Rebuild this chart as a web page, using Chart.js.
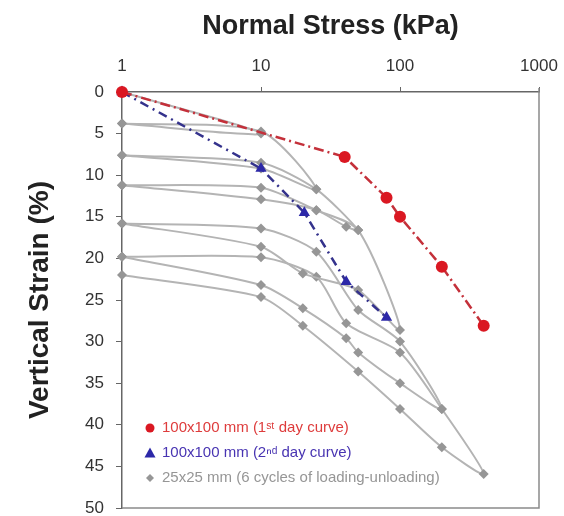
<!DOCTYPE html>
<html>
<head>
<meta charset="utf-8">
<script src="https://cdn.jsdelivr.net/npm/chart.js"></script>
<style>
  html, body { margin: 0; padding: 0; background: #fff; }
  #wrap { width: 564px; height: 516px; }
</style>
</head>
<body>
<div id="wrap"><canvas id="strain"></canvas></div>
<script>
// normal stress (kPa) / vertical strain (%)
const xTicks = [1, 10, 100, 1000];

// 100x100 mm, first day
const stressDay1 = [1, 40, 80, 100, 200, 400];
const strainDay1 = [0, 7.8, 12.7, 15.0, 21.0, 28.1];

// 100x100 mm, second day
const stressDay2 = [1, 10, 20.5, 41, 80];
const strainDay2 = [0, 9.2, 14.5, 22.8, 27.1];

// 25x25 mm, one list of [stress, strain] per loading-unloading cycle
const cycle1 = [[1, 0], [10, 5.0], [1, 3.8]];
const cycle2 = [[1, 3.8], [10, 4.75], [25, 11.7], [10, 9.2], [1, 7.6]];
const cycle3 = [[1, 7.6], [10, 8.5], [25, 11.7], [50, 16.6], [41, 16.2], [25, 14.2], [10, 12.9], [1, 11.2]];
const cycle4 = [[1, 11.2], [10, 11.5], [25, 14.2], [50, 16.6], [100, 28.6], [50, 23.8], [20, 21.8], [10, 18.6], [1, 15.8]];
const cycle5 = [[1, 15.8], [10, 16.4], [25, 19.2], [50, 26.2], [100, 30.0], [200, 38.1], [100, 35.0], [50, 31.3], [41, 29.6], [20, 26.0], [10, 23.2], [1, 19.8]];
const cycle6 = [[1, 19.8], [10, 19.85], [25, 22.2], [41, 27.8], [100, 31.3], [200, 38.1], [400, 45.9], [200, 42.7], [100, 38.1], [50, 33.6], [20, 28.1], [10, 24.65], [1, 22.0]];

const legendLabels = [
  '100x100 mm (1\u02e2\u1d57 day curve)',
  '100x100 mm (2\u207f\u1d48 day curve)',
  '25x25 mm (6 cycles of loading-unloading)'
];

const RED = 'rgb(218, 24, 34)';
const BLUE = 'rgb(44, 40, 168)';
const GREY = 'rgb(150, 150, 150)';
const FONT = '"Liberation Sans", Arial, sans-serif';

const toPoints = (xs, ys) => xs.map((x, i) => ({ x: x, y: ys[i] }));

const cycleSets = [cycle1, cycle2, cycle3, cycle4, cycle5, cycle6].map(c => ({
  label: '',
  data: c.map(p => ({ x: p[0], y: p[1] })),
  showLine: true,
  borderColor: 'rgb(180, 180, 180)',
  borderWidth: 2,
  backgroundColor: GREY,
  pointStyle: 'rectRot',
  pointRadius: 5,
  pointBorderWidth: 0,
  tension: 0.25,
  clip: false
}));

// box on the right/bottom and the legend inside the plot
const boxAndLegend = {
  id: 'boxAndLegend',
  afterDraw(chart) {
    const { ctx, chartArea: a } = chart;
    ctx.save();
    ctx.strokeStyle = '#8a8a8a';
    ctx.lineWidth = 1.5;
    ctx.beginPath();
    ctx.moveTo(a.right, a.top - 4);
    ctx.lineTo(a.right, a.bottom);
    ctx.lineTo(a.left, a.bottom);
    ctx.stroke();

    const rows = [
      { text: legendLabels[0], color: 'rgb(222, 60, 60)', mark: RED, shape: 'circle' },
      { text: legendLabels[1], color: 'rgb(72, 52, 178)', mark: BLUE, shape: 'triangle' },
      { text: legendLabels[2], color: 'rgb(150, 150, 150)', mark: GREY, shape: 'diamond' }
    ];
    ctx.font = '15px ' + FONT;
    ctx.textBaseline = 'middle';
    rows.forEach((r, i) => {
      const y = 428 + i * 25;
      const x = 150;
      ctx.fillStyle = r.mark;
      ctx.beginPath();
      if (r.shape === 'circle') {
        ctx.arc(x, y, 4.5, 0, Math.PI * 2);
      } else if (r.shape === 'triangle') {
        ctx.moveTo(x, y - 5.5);
        ctx.lineTo(x + 5.5, y + 4.5);
        ctx.lineTo(x - 5.5, y + 4.5);
        ctx.closePath();
      } else {
        ctx.moveTo(x, y - 4);
        ctx.lineTo(x + 4, y);
        ctx.lineTo(x, y + 4);
        ctx.lineTo(x - 4, y);
        ctx.closePath();
      }
      ctx.fill();
      ctx.fillStyle = r.color;
      ctx.fillText(r.text, x + 12, y);
    });
    ctx.restore();
  }
};

new Chart(document.getElementById('strain'), {
  type: 'scatter',
  data: {
    datasets: [
      {
        label: legendLabels[0],
        data: toPoints(stressDay1, strainDay1),
        showLine: true,
        borderColor: 'rgb(196, 48, 58)',
        borderWidth: 2.5,
        borderDash: [10, 4, 2, 4],
        backgroundColor: RED,
        pointRadius: 6,
        pointBorderWidth: 0,
        clip: false
      },
      {
        label: legendLabels[1],
        data: toPoints(stressDay2, strainDay2),
        showLine: true,
        borderColor: 'rgb(52, 50, 140)',
        borderWidth: 2.5,
        borderDash: [9, 5, 2, 5],
        backgroundColor: BLUE,
        pointStyle: 'triangle',
        pointRadius: 6.5,
        pointBorderWidth: 0,
        clip: false
      },
      ...cycleSets
    ]
  },
  options: {
    responsive: true,
    maintainAspectRatio: false,
    animation: false,
    layout: { padding: { left: 0, right: 25, top: 0, bottom: 8 } },
    plugins: {
      legend: { display: false },
      tooltip: { enabled: false }
    },
    scales: {
      x: {
        type: 'logarithmic',
        position: 'top',
        min: 1,
        max: 1000,
        afterBuildTicks: s => { s.ticks = xTicks.map(v => ({ value: v })); },
        afterFit: s => {
          s.height = 92;
          s.paddingLeft = 0;
          s.paddingRight = 0;
        },
        ticks: {
          callback: v => String(v),
          autoSkip: false,
          maxRotation: 0,
          padding: 10,
          color: '#333',
          font: { size: 17, family: FONT }
        },
        grid: { drawOnChartArea: false, tickLength: 5, color: '#666' },
        border: { color: '#666', width: 1.5 },
        title: {
          display: true,
          text: 'Normal Stress (kPa)',
          color: '#222',
          padding: { top: 10, bottom: 0 },
          font: { size: 27, weight: 'bold', family: FONT }
        }
      },
      y: {
        reverse: true,
        min: 0,
        max: 50,
        afterFit: s => {
          s.width = 122;
          s.paddingTop = 0;
          s.paddingBottom = 0;
        },
        ticks: {
          stepSize: 5,
          padding: 12,
          color: '#333',
          font: { size: 17, family: FONT }
        },
        grid: { drawOnChartArea: false, tickLength: 6, color: '#666' },
        border: { color: '#666', width: 1.5 },
        title: {
          display: true,
          text: 'Vertical Strain (%)',
          color: '#222',
          padding: { top: 23, bottom: 0 },
          font: { size: 28, weight: 'bold', family: FONT }
        }
      }
    }
  },
  plugins: [boxAndLegend]
});
</script>
</body>
</html>
